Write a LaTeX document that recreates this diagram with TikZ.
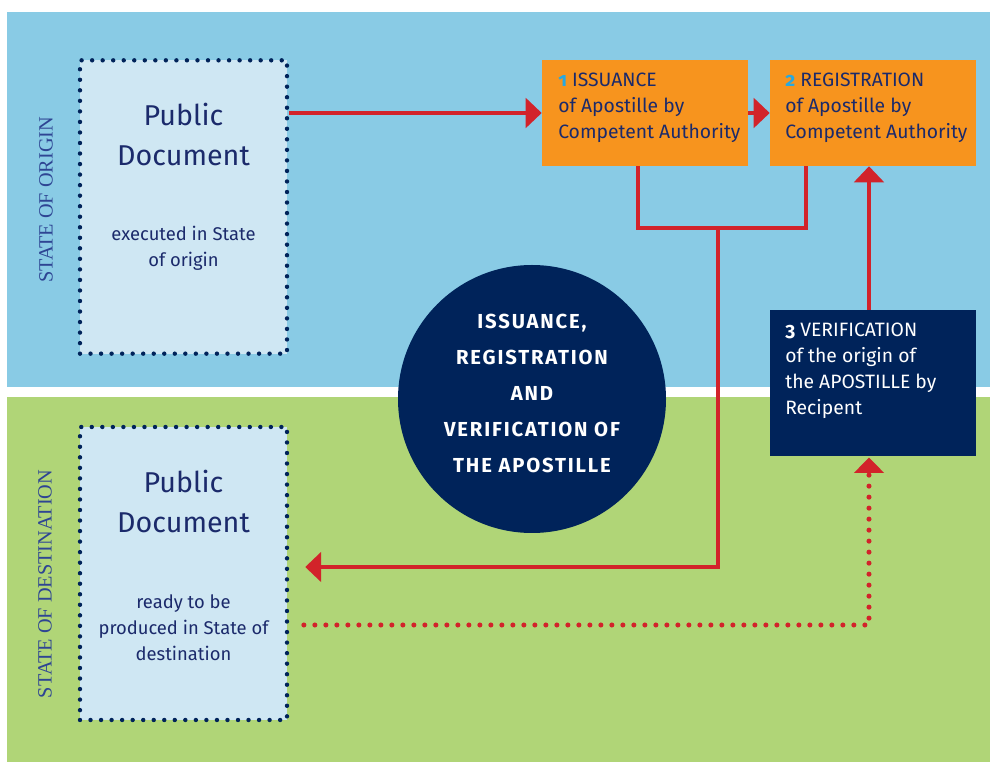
\documentclass[tikz,border=0pt]{standalone}
\usepackage{fontspec}
\setmainfont{Fira Sans}
\newfontfamily\statefont{Liberation Serif}
\newfontfamily\circfont[LetterSpace=9]{Fira Sans}
\usetikzlibrary{arrows.meta}
\definecolor{bgblue}{HTML}{89CBE5}
\definecolor{bggreen}{HTML}{B0D577}
\definecolor{docfill}{HTML}{CFE7F3}
\definecolor{navy}{HTML}{00235A}
\definecolor{txtnavy}{HTML}{1B2A6B}
\definecolor{orangebox}{HTML}{F7941E}
\definecolor{redline}{HTML}{D2232A}
\definecolor{numcyan}{HTML}{29A8E0}
\definecolor{statecol}{HTML}{2E4593}
\tikzset{
  docbox/.style={draw=navy, fill=docfill, line width=3.3pt, line cap=round,
    dash pattern=on 0pt off 7.9pt, minimum width=155.25pt, minimum height=220pt, inner sep=0pt},
  orbox/.style={fill=orangebox, minimum width=154.5pt, minimum height=79.5pt, inner sep=0pt},
  navybox/.style={fill=navy, minimum width=154.5pt, minimum height=109.5pt, inner sep=0pt},
  bigtxt/.style={text=txtnavy, align=center, inner sep=0pt, font=\fontsize{21.5}{30}\selectfont},
  smalltxt/.style={text=txtnavy, align=center, inner sep=0pt, font=\fontsize{13.8}{19.5}\selectfont},
  boxtxt/.style={align=left, inner sep=0pt, anchor=north west, font=\fontsize{14.5}{19.5}\selectfont},
  statetxt/.style={text=statecol, rotate=90, inner sep=0pt, font=\statefont\fontsize{15}{15}\selectfont},
  rline/.style={draw=redline, line width=3.6pt, line join=miter},
  rarrow/.style={rline, -{Triangle[length=12pt, width=22pt]}},
  rdots/.style={draw=redline, line width=3.8pt, line cap=round, dash pattern=on 0pt off 8.25pt,
    -{Triangle[length=11.5pt, width=22pt]}},
}
\newcommand{\onum}[2]{{\bfseries\addfontfeatures{Numbers=OldStyle}\color{#1}#2}}
\begin{document}
\begin{tikzpicture}[x=0.75pt, y=-0.75pt]
\useasboundingbox (0,0) rectangle (990,762);
\fill[white] (0,0) rectangle (990,762);
% regions
\fill[bgblue] (7,12) rectangle (990,387);
\fill[bggreen] (7,397) rectangle (990,762);
% state labels
\node[statetxt] (so) at (46,200) {\resizebox{124.5pt}{!}{STATE OF ORIGIN}};
\node[statetxt] (sd) at (45,584) {\resizebox{171pt}{!}{STATE OF DESTINATION}};
% documents
\node[docbox] (doc1) at (183.5,207) {};
\node[docbox, minimum height=219.75pt] (doc2) at (183.5,573.5) {};
\node[bigtxt, anchor=north] (doc1t) at (183.5,103) {Public\\Document};
\node[smalltxt, anchor=north] (doc1s) at (183.5,226) {executed in State\\of origin};
\node[bigtxt, anchor=north] (doc2t) at (183.5,470) {Public\\Document};
\node[smalltxt, anchor=north] (doc2s) at (183.5,594) {ready to be\\produced in State of\\destination};
% orange boxes
\node[orbox] (iss) at (645,113) {};
\node[orbox] (reg) at (873,113) {};
\node[boxtxt, text=txtnavy] (isst) at (558,73) {\onum{numcyan}{1} ISSUANCE\\of Apostille by\\Competent Authority};
\node[boxtxt, text=txtnavy] (regt) at (785,73) {\onum{numcyan}{2} REGISTRATION\\of Apostille by\\Competent Authority};
% verification box
\node[navybox] (ver) at (873,383) {};
\node[boxtxt, text=white] (vert) at (785,323) {\onum{white}{3} VERIFICATION\\of the origin of\\the APOSTILLE by\\Recipent};
% circle
\node[circle, fill=navy, minimum size=201pt, inner sep=0pt] (circ) at (532,399) {};
\node[text=white, align=center, inner sep=0pt, font=\circfont\bfseries\fontsize{15.2}{27}\selectfont] (circt) at (532,393)
  {ISSUANCE,\\REGISTRATION\\AND\\VERIFICATION OF\\THE APOSTILLE};
% connector coordinates
\coordinate (fL) at (638,228);
\coordinate (fR) at (806,228);
\coordinate (fM) at (718,228);
\coordinate (fB) at (718,567);
\coordinate (vx) at (869,0);
\coordinate (dC) at (869,625);
% connectors
\draw[rarrow] (doc1.east |- iss.west) -- (iss.west);
\draw[rarrow] (iss.east) -- (reg.west);
\draw[rline] (iss.south -| fL) -- (fL) -- (fR) -- (reg.south -| fR);
\draw[rarrow, shorten >=12pt] (fM) -- (fB) -- (doc2.east |- fB);
\draw[rarrow] (ver.north -| vx) -- (reg.south -| vx);
\draw[rdots] ([xshift=11pt]doc2.east |- dC) -- (dC) -- ([yshift=-1pt]ver.south -| dC);
\end{tikzpicture}
\end{document}
